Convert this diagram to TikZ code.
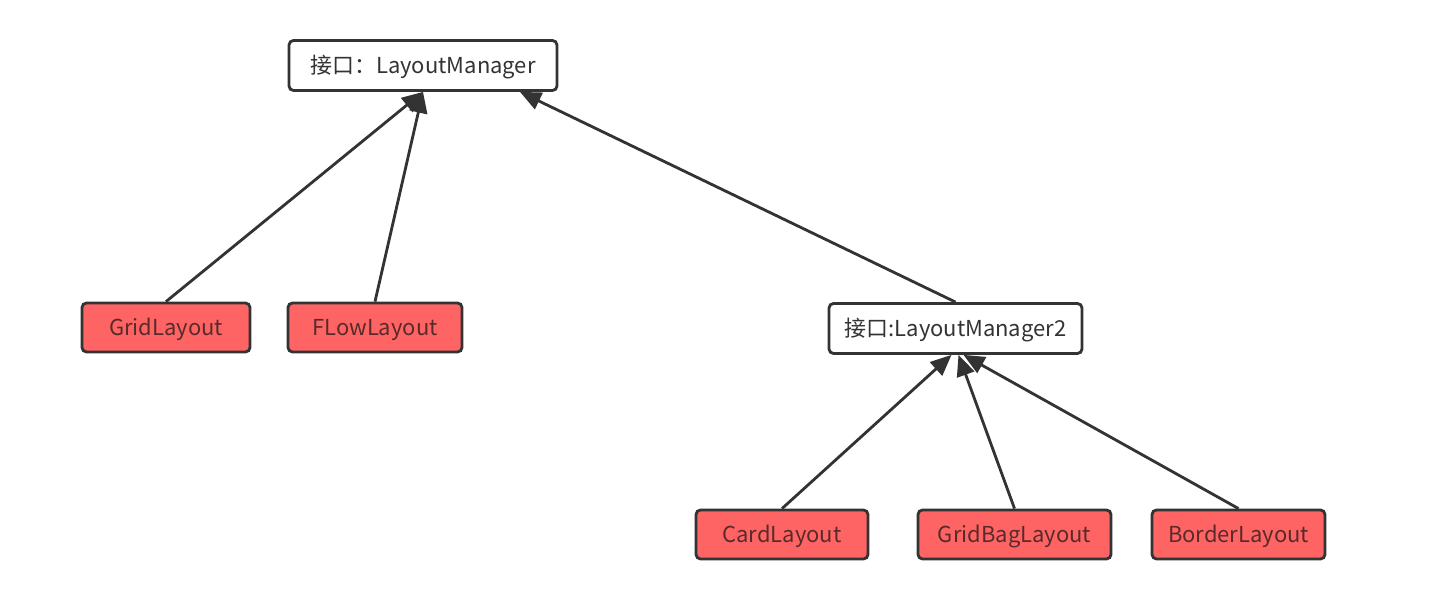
\documentclass[tikz,border=0pt]{standalone}
\usepackage{fontspec}
\setmainfont{Noto Sans CJK SC}
\usetikzlibrary{arrows.meta}
\definecolor{boxred}{HTML}{FF6464}
\definecolor{edgegray}{HTML}{333333}
\definecolor{redtext}{HTML}{5A2A2A}
\begin{document}
\begin{tikzpicture}[
    iface/.style={draw=edgegray, line width=1.6pt, rounded corners=0.09cm, fill=white,
        text=edgegray, minimum height=1cm, inner sep=0pt, text height=1.1em, text depth=0.2em,
        font=\fontsize{12.5}{15}\selectfont},
    impl/.style={iface, fill=boxred, text=redtext, minimum height=0.98cm},
    inherit/.style={draw=edgegray, line width=1.6pt, -{Triangle[length=0.42cm,width=0.36cm]}}
  ]
  \useasboundingbox (0,0) rectangle (28.66,12.28);
  \node[iface, minimum width=5.36cm] (lm) at (8.46, 10.97) {接口：LayoutManager};
  \node[iface, minimum width=5.06cm] (lm2) at (19.11, 5.71) {接口:LayoutManager2};
  \node[impl, minimum width=3.36cm] (grid) at (3.32, 5.73) {GridLayout};
  \node[impl, minimum width=3.48cm] (flow) at (7.50, 5.73) {FLowLayout};
  \node[impl, minimum width=3.44cm] (card) at (15.64, 1.59) {CardLayout};
  \node[impl, minimum width=3.86cm] (gridbag) at (20.29, 1.59) {GridBagLayout};
  \node[impl, minimum width=3.46cm] (border) at (24.77, 1.59) {BorderLayout};
  \draw[inherit] (grid.north) -- (lm.south);
  \draw[inherit] (flow.north) -- (lm.south);
  \draw[inherit] (lm2.north) -- ([xshift=1.94cm]lm.south);
  \draw[inherit] (card.north) -- ([xshift=-0.08cm]lm2.south);
  \draw[inherit] (gridbag.north) -- ([xshift=0.06cm]lm2.south);
  \draw[inherit] (border.north) -- ([xshift=0.16cm]lm2.south);
\end{tikzpicture}
\end{document}
